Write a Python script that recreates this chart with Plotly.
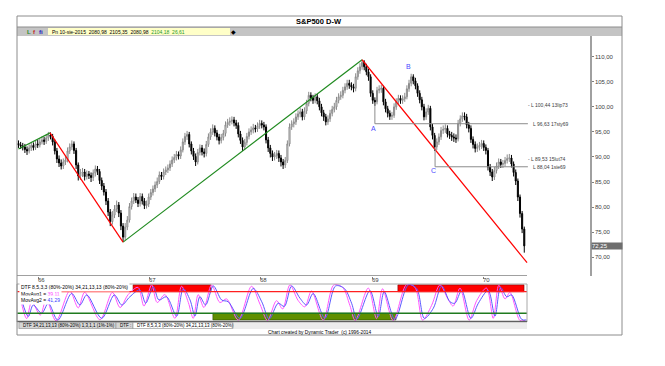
import plotly.graph_objects as go
import pandas as pd

W, H = 665, 366
def px(x): return x / W
def py(y): return 1 - y / H

START = pd.Timestamp("1965-10-29")
def wk(i): return START + pd.Timedelta(days=7 * i)

# ---------------- weekly price bars (S&P500, weekly) ----------------
closes = [92.4,92.2,92.0,91.5,91.2,91.8,92.3,91.9,92.6,92.4,
93.0,93.4,93.1,93.8,94.4,94.1,93.0,91.2,89.6,88.8,
88.2,89.0,89.4,91.2,92.0,92.6,91.3,88.4,86.2,86.8,
87.0,86.1,86.6,86.3,85.9,86.8,87.6,87.1,85.3,84.2,
83.0,81.2,79.0,77.1,78.4,79.6,80.4,78.8,76.2,74.0,
76.0,77.4,80.1,81.2,82.0,81.4,80.7,82.1,81.2,80.3,
80.6,82.0,82.9,83.6,84.4,85.1,86.4,86.1,87.0,87.4,
87.8,88.6,89.4,89.9,90.5,90.2,91.4,93.0,94.1,94.5,
92.6,91.2,90.1,89.0,90.9,91.8,91.0,90.7,92.5,94.0,
95.0,95.7,94.8,94.0,93.3,93.9,94.7,96.4,96.9,97.1,
97.4,96.8,96.3,94.6,93.3,92.0,92.9,94.1,95.0,95.4,
95.8,95.6,96.2,96.7,96.4,96.0,93.4,91.8,90.7,90.0,
90.3,90.7,89.8,89.0,88.4,89.3,92.6,96.0,96.6,97.0,
98.0,98.6,99.0,98.0,99.2,100.7,102.3,101.8,101.3,102.0,
101.2,100.0,98.8,98.0,97.0,97.6,98.7,99.5,100.0,101.3,
102.0,102.3,103.3,104.0,104.7,104.3,104.0,103.7,106.0,107.2,
108.0,108.9,108.0,107.0,106.0,102.7,101.3,101.0,103.3,103.5,
103.7,101.0,99.6,98.7,98.1,98.3,100.0,101.0,101.7,101.3,
101.6,102.0,103.6,104.7,106.0,105.2,104.2,102.7,101.4,100.0,
98.0,99.0,99.7,96.0,94.3,92.0,93.0,94.0,95.3,95.5,
95.7,94.6,94.3,94.0,93.8,93.6,96.7,97.6,98.2,98.0,
96.4,95.7,93.5,92.5,91.7,92.0,92.3,92.7,91.9,91.3,
88.0,87.0,86.0,87.3,88.2,89.0,88.5,88.7,89.3,89.7,
89.8,88.6,86.9,85.2,82.0,78.7,75.6,72.25]

highs = [93.3,93.0,92.8,92.6,92.1,92.5,93.0,92.9,93.3,93.4,
93.6,94.1,94.0,94.4,95.0,94.9,94.6,93.5,91.8,90.3,
89.5,89.7,90.2,91.9,92.7,93.3,93.1,91.8,88.9,87.6,
87.8,87.6,87.3,87.2,86.9,87.5,88.3,88.2,87.6,85.9,
84.8,83.6,81.8,79.6,79.2,80.4,81.3,81.0,79.4,76.8,
76.8,78.2,80.8,81.9,82.8,82.7,82.0,82.8,82.7,81.8,
81.3,82.7,83.6,84.3,85.1,85.9,87.1,87.0,87.7,88.1,
88.5,89.3,90.1,90.6,91.2,91.1,92.1,93.7,94.8,95.2,
95.0,93.1,91.8,90.7,91.6,92.5,92.4,91.7,93.2,94.7,
95.7,96.5,96.3,95.4,94.6,94.6,95.4,97.1,97.6,97.9,
98.1,98.0,97.4,96.9,95.2,93.9,93.6,94.8,95.7,96.1,
96.6,96.4,96.9,97.4,97.3,97.0,96.5,94.0,92.4,91.3,
91.0,91.4,91.3,90.4,89.6,90.0,93.3,96.7,97.3,97.7,
98.7,99.3,99.8,99.6,99.9,101.4,103.0,102.9,102.4,102.7,
102.6,101.8,100.6,99.4,98.6,98.3,99.4,100.2,100.8,102.0,
102.7,103.1,104.0,104.7,105.4,105.4,104.9,104.6,106.7,107.9,
108.7,109.4,109.3,108.6,107.6,106.5,103.3,101.9,104.0,104.3,
104.4,104.2,101.6,100.2,99.3,99.0,100.7,101.7,102.4,102.3,
102.3,102.8,104.3,105.4,106.6,106.5,105.8,104.7,103.3,102.0,
100.6,99.7,100.4,100.2,96.6,94.8,93.7,94.7,96.0,96.3,
96.5,96.3,95.2,95.0,94.7,94.5,97.4,98.3,98.9,98.9,
98.6,97.0,96.3,94.1,93.1,92.7,93.0,93.4,93.3,92.5,
91.8,88.6,87.6,88.0,88.9,89.7,89.6,89.4,90.0,90.5,
90.6,90.4,89.1,87.5,85.7,82.5,79.2,76.1]

lows = [91.8,91.6,91.3,90.8,90.4,90.7,91.2,91.3,91.4,91.8,
91.9,92.5,92.4,92.6,93.2,93.5,92.3,90.5,88.8,88.0,
87.5,87.6,88.4,88.9,90.6,91.4,90.6,87.6,85.3,85.4,
86.0,85.3,85.5,85.6,85.0,85.2,86.1,86.4,84.6,83.4,
82.3,80.4,78.2,76.2,76.5,77.8,79.0,78.0,75.4,73.0,
73.4,75.4,76.9,79.5,80.6,80.8,80.0,80.1,80.5,79.6,
79.7,80.0,81.4,82.3,83.0,83.8,84.6,85.4,85.5,86.4,
86.8,87.2,88.0,88.8,89.3,89.5,89.6,90.9,92.4,93.4,
91.9,90.5,89.4,88.2,88.5,90.3,90.3,89.9,90.1,92.0,
93.4,94.4,94.1,93.3,92.5,92.7,93.3,94.1,95.8,96.2,
96.5,96.1,95.6,93.9,92.6,91.2,91.4,92.3,93.5,94.4,
94.7,94.9,95.0,95.6,95.7,95.3,92.7,91.0,89.9,89.2,
89.3,89.6,89.0,88.1,87.6,87.8,88.8,92.1,95.4,95.9,
96.4,97.4,97.9,97.3,97.4,98.6,100.1,101.1,100.6,100.7,
100.5,99.3,98.1,97.2,96.3,96.4,97.0,98.1,98.9,99.4,
100.7,101.4,101.7,102.7,103.4,103.6,103.3,102.9,103.1,105.4,
106.6,107.4,107.3,106.3,105.2,102.0,100.6,100.2,100.5,102.7,
102.8,100.3,98.9,97.9,97.4,97.4,97.8,99.4,100.4,100.6,
100.6,101.0,101.5,103.0,104.1,104.5,103.5,102.0,100.7,99.3,
97.3,97.4,98.4,95.3,93.5,91.2,91.4,92.4,93.4,94.6,
94.8,93.9,93.6,93.2,93.0,92.8,93.1,96.1,97.0,97.3,
95.7,94.9,92.8,91.7,90.9,91.0,91.3,91.6,91.2,90.5,
87.3,86.2,85.2,85.4,86.7,87.6,87.8,87.8,88.1,88.7,
89.0,87.9,86.1,84.4,81.2,77.9,74.8,70.9]

# each week opens where the previous week closed
opens = [92.7] + closes[:-1]
dates = [wk(i) for i in range(len(closes))]

# ---------------- swing lines (week index, price) ----------------
green_lines = [([0, 14.8], [91.6, 94.8]), ([49, 161], [73.0, 109.4])]
red_lines = [([14.8, 49], [94.8, 73.0]), ([161, 238.3], [109.4, 68.9])]

# A / C pivot levels: week, price at bar, level value
pivot_weeks = [167, 195.2]
pivot_bar_px = [100.8, 92.0]
pivot_levels = [96.63, 88.04]
level_end_week = 238.7

abc_labels = ["A", "B", "C"]
abc_weeks = [166.3, 182.6, 194.4]
abc_prices = [95.6, 108.0, 87.3]

level_values = [100.44, 96.63, 89.53, 88.04]
level_texts = ["- L 100,44 13lip73", "L 96,63 17sty69", "- L 89,53 15lut74", "L 88,04 1sie69"]
level_text_x = [525.5, 531, 525.5, 531]

last_price = 72.25
y_ticks = [70, 75, 80, 85, 90, 95, 100, 105, 110]
y_ticktext = ["70,00", "75,00", "80,00", "85,00", "90,00", "95,00", "100,00", "105,00", "110,00"]
x_years = [1966, 1967, 1968, 1969, 1970]
x_ticktext = ["66", "67", "68", "69", "70"]

# ---------------- oscillator (DTF) turning points ----------------
blue_w = [1.5,4.6,6.9,10.9,14.0,18.4,24.9,28.8,32.0,39.0,44.9,48.4,52.2,56.9,59.6,63.2,65.8,69.4,74.1,77.2,80.4,82.7,85.0,87.7,91.3,95.2,98.3,103.8,110.0,114.0,117.5,121.7,124.6,128.0,131.9,135.0,138.1,143.6,148.6,152.7,156.1,158.6,164.7,168.6,171.4,176.4,182.7,186.6,190.2,194.4,198.3,202.2,204.5,207.7,212.0,215.5,220.1,223.3,225.9,228.8,231.1,235.8,238.1]
blue_v = [57,11,43,20,48,1,75,43,71,6,71,43,66,85,48,94,57,66,12,89,57,12,66,43,96,57,52,6,89,52,4,48,39,96,62,43,75,6,96,89,48,4,83,11,80,3,99,89,6,34,96,52,48,83,6,48,83,12,92,66,71,3,1.5]
mag_w = [0.8,3.8,6.2,10.2,13.0,17.6,24.0,28.0,31.0,38.2,44.0,47.6,51.4,56.0,58.8,62.4,65.0,68.6,73.3,76.4,79.6,81.9,84.2,86.9,90.5,94.4,97.5,103.0,109.2,113.2,116.7,120.9,123.8,127.2,131.1,134.2,137.3,142.8,147.8,151.9,155.3,157.8,163.9,167.8,170.6,175.6,181.9,185.8,189.4,193.6,197.5,201.4,203.7,206.9,211.2,214.7,219.3,222.5,225.1,228.0,230.3,235.0,237.3]
mag_v = [65,5,52,15,58,-1,82,35,78,2,78,36,72,92,40,99,50,72,6,95,50,6,72,36,99,50,60,1,95,45,0,55,32,99,55,38,82,1,99,92,42,0,90,5,88,0,100,92,1,42,99,58,40,90,1,55,90,6,98,60,78,0,0]
osc_upper, osc_lower = 80, 20
red_zones = [(53.7, 90.2), (177.8, 236.9)]
green_zones = [(91.1, 176.9)]

FONT = "Liberation Sans, Arial, sans-serif"

fig = go.Figure()

fig.add_trace(go.Candlestick(
    x=dates, open=opens, high=highs, low=lows, close=closes,
    increasing=dict(line=dict(color="#8a8a8a", width=1), fillcolor="#ffffff"),
    decreasing=dict(line=dict(color="#000000", width=1), fillcolor="#000000"),
    whiskerwidth=0, showlegend=False, hoverinfo="skip",
    xaxis="x", yaxis="y"))

for wks, pr in green_lines:
    fig.add_trace(go.Scatter(x=[wk(w) for w in wks], y=pr, mode="lines",
                             line=dict(color="#1f8a1f", width=1.2), showlegend=False,
                             hoverinfo="skip", xaxis="x", yaxis="y"))
for wks, pr in red_lines:
    fig.add_trace(go.Scatter(x=[wk(w) for w in wks], y=pr, mode="lines",
                             line=dict(color="#ff0000", width=1.2), showlegend=False,
                             hoverinfo="skip", xaxis="x", yaxis="y"))
for w, bp, lv in zip(pivot_weeks, pivot_bar_px, pivot_levels):
    fig.add_trace(go.Scatter(x=[wk(w), wk(w), wk(level_end_week)], y=[bp, lv, lv], mode="lines",
                             line=dict(color="#8c8c8c", width=1), showlegend=False,
                             hoverinfo="skip", xaxis="x", yaxis="y"))

# oscillator
fig.add_trace(go.Scatter(x=[wk(w) for w in mag_w], y=mag_v, mode="lines",
                         line=dict(color="#ff55ff", width=1, shape="spline", smoothing=0.9),
                         showlegend=False, hoverinfo="skip", xaxis="x2", yaxis="y2"))
fig.add_trace(go.Scatter(x=[wk(w) for w in blue_w], y=blue_v, mode="lines",
                         line=dict(color="#5a5aff", width=1, shape="spline", smoothing=0.9),
                         showlegend=False, hoverinfo="skip", xaxis="x2", yaxis="y2"))

shapes = []
# oscillator zones
for a, b in red_zones:
    shapes.append(dict(type="rect", xref="x2", yref="y2", x0=wk(a), x1=wk(b), y0=osc_upper, y1=99,
                       fillcolor="#ff0000", line=dict(color="#7a0000", width=0.6), layer="below"))
for a, b in green_zones:
    shapes.append(dict(type="rect", xref="x2", yref="y2", x0=wk(a), x1=wk(b), y0=1.5, y1=osc_lower,
                       fillcolor="#5f8f00", line=dict(color="#2f4f00", width=0.6), layer="below"))
shapes.append(dict(type="line", xref="paper", yref="y2", x0=px(17), x1=px(527), y0=osc_upper, y1=osc_upper,
                   line=dict(color="#ff2020", width=1.2)))
shapes.append(dict(type="line", xref="paper", yref="y2", x0=px(17), x1=px(527), y0=osc_lower, y1=osc_lower,
                   line=dict(color="#1f7a1f", width=1.5)))
# oscillator frame
shapes.append(dict(type="rect", xref="paper", yref="paper", x0=px(17), x1=px(527), y0=py(322), y1=py(284),
                   line=dict(color="#a8a8a8", width=1)))
shapes.append(dict(type="line", xref="paper", yref="paper", x0=px(17), x1=px(527), y0=py(321.5), y1=py(321.5),
                   line=dict(color="#606060", width=1.5)))
# tab strip
shapes.append(dict(type="rect", xref="paper", yref="paper", x0=px(17), x1=px(527), y0=py(329), y1=py(322.5),
                   fillcolor="#ececec", line=dict(width=0)))
shapes.append(dict(type="rect", xref="paper", yref="paper", x0=px(19), x1=px(116), y0=py(328.5), y1=py(322.5),
                   fillcolor="#d6d6d6", line=dict(color="#909090", width=0.6)))
shapes.append(dict(type="rect", xref="paper", yref="paper", x0=px(116), x1=px(133), y0=py(328.5), y1=py(322.5),
                   fillcolor="#d6d6d6", line=dict(color="#909090", width=0.6)))
shapes.append(dict(type="rect", xref="paper", yref="paper", x0=px(133), x1=px(233), y0=py(328.5), y1=py(322.5),
                   fillcolor="#ffffff", line=dict(color="#909090", width=0.6)))
# time axis line
shapes.append(dict(type="line", xref="paper", yref="paper", x0=px(17), x1=px(527), y0=py(275.5), y1=py(275.5),
                   line=dict(color="#a0a0a0", width=1)))
# outer frame, title bar and toolbar
shapes.append(dict(type="rect", xref="paper", yref="paper", x0=px(17), x1=px(622), y0=py(27), y1=py(36),
                   fillcolor="#c4c4c4", line=dict(width=0)))
shapes.append(dict(type="line", xref="paper", yref="paper", x0=px(17), x1=px(622), y0=py(27), y1=py(27),
                   line=dict(color="#8c8c8c", width=1)))
shapes.append(dict(type="rect", xref="paper", yref="paper", x0=px(48), x1=px(230), y0=py(35), y1=py(28),
                   fillcolor="#ffffc8", line=dict(width=0)))
shapes.append(dict(type="rect", xref="paper", yref="paper", x0=px(17), x1=px(622), y0=py(335), y1=py(16),
                   line=dict(color="#8c8c8c", width=1)))

annotations = []
def ann(text, x, y, size=6, color="#000000", xanchor="left", xref="paper", yref="paper", **kw):
    annotations.append(dict(text=text, x=x, y=y, xref=xref, yref=yref, xanchor=xanchor, yanchor="middle",
                            showarrow=False, font=dict(family=FONT, size=size, color=color), **kw))

ann("<b>S&amp;P500 D-W</b>", px(319), py(21.5), size=7.5, xanchor="center")
ann("<b>L</b>", px(25), py(31.5), size=6, color="#2a8a2a")
ann("<b>f</b>", px(31), py(31.5), size=6, color="#c02020")
ann("<b>fi</b>", px(37), py(31.5), size=6, color="#2020c0")
ann("Pn 10-sie-2015  2080,98  2105,35  2080,98  <span style='color:#2a9a2a'>2104,18  26,61</span>",
    px(50), py(31.5), size=5)
ann("◆", px(233), py(31.5), size=6, xanchor="center")

# year labels of the time axis
for yr, t in zip(x_years, x_ticktext):
    ann(t, pd.Timestamp(f"{yr}-01-01"), py(280.3), size=6, color="#404040", xanchor="center",
        xref="x", xshift=3)

for t, w, p in zip(abc_labels, abc_weeks, abc_prices):
    ann(t, wk(w), p, size=7, color="#4a4aff", xanchor="center", xref="x", yref="y")
for t, v, xx in zip(level_texts, level_values, level_text_x):
    ann(t, px(xx), v, size=5, color="#404040", yref="y")

ann(f"{last_price:.2f}".replace(".", ","), px(590.5), last_price, size=6, color="#ffffff", yref="y",
    bgcolor="#6e6e6e", width=30, align="left", borderpad=0)

ann("DTF 8,5,3,3 (80%-20%) 34,21,13,13 (80%-20%)", px(19), py(287.3), size=5, bgcolor="#ffffff")
ann("MovAvg1 = <span style='color:#ff40ff'>39,11</span>", px(19), py(293.5), size=5, bgcolor="#ffffff")
ann("MovAvg2 = <span style='color:#4040ff'>41,29</span>", px(19), py(299.5), size=5, bgcolor="#ffffff")

ann("DTF 34,21,13,13 (80%-20%) 1,3,1,1 (1%-1%)", px(21), py(325.6), size=4.5)
ann("DTF :", px(118), py(325.6), size=4.5)
ann("DTF 8,5,3,3 (80%-20%) 34,21,13,13 (80%-20%)", px(135), py(325.6), size=4.5)
ann("Chart created by Dynamic Trader  (c) 1996-2014", px(320), py(332), size=4.8, xanchor="center")

fig.update_layout(
    width=W, height=H, margin=dict(l=0, r=0, t=0, b=0),
    paper_bgcolor="#ffffff", plot_bgcolor="#ffffff",
    showlegend=False, shapes=shapes, annotations=annotations,
    font=dict(family=FONT, size=6, color="#303030"),
    xaxis=dict(domain=[px(17), px(590)], range=[wk(-0.7), wk(267.8)], type="date",
               rangeslider=dict(visible=False), showgrid=False, zeroline=False, showline=False,
               tickvals=[pd.Timestamp(f"{y}-01-01") for y in x_years], showticklabels=False,
               ticks="outside", ticklen=2, tickcolor="#808080",
               anchor="y", fixedrange=True),
    yaxis=dict(domain=[py(275.5), py(36)], range=[66.34, 114.14], side="right",
               showgrid=False, zeroline=False, showline=True, linecolor="#a0a0a0", linewidth=1.5,
               tickvals=y_ticks, ticktext=y_ticktext, ticks="outside", ticklen=2, tickcolor="#808080",
               tickfont=dict(size=6, color="#404040"), anchor="x", fixedrange=True),
    xaxis2=dict(domain=[px(17), px(527)], range=[wk(-0.7), wk(238.3)], type="date",
                visible=False, anchor="y2", fixedrange=True),
    yaxis2=dict(domain=[py(322), py(284)], range=[-4.2, 101.4], visible=False, anchor="x2", fixedrange=True),
)

fig.write_html("out.html", config={"displayModeBar": False})
